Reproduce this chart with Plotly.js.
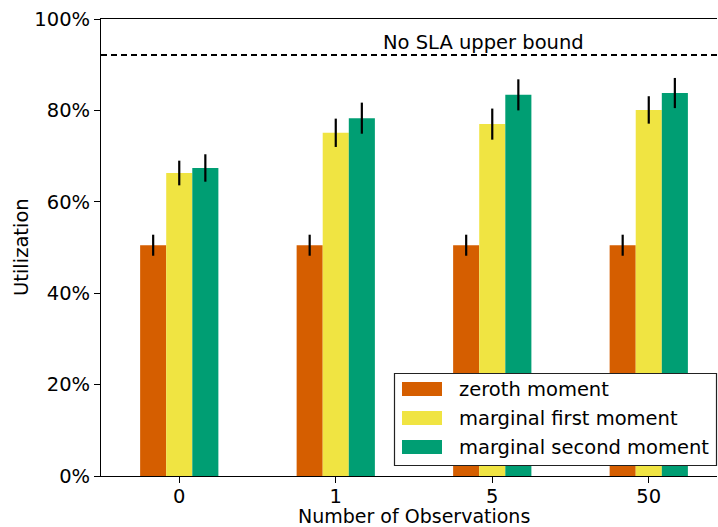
<!DOCTYPE html>
<html>
<head>
<meta charset="utf-8">
<script src="https://cdn.plot.ly/plotly-3.0.1.min.js"></script>
<style>html,body{margin:0;padding:0;background:#fff;}#chart{width:718px;height:527px;}</style>
</head>
<body>
<div id="chart"></div>
<script>
const categories = ["0", "1", "5", "50"];
const seriesNames = ["zeroth moment", "marginal first moment", "marginal second moment"];
const zerothValues = [50.5, 50.5, 50.5, 50.5];
const zerothErrors = [2.3, 2.3, 2.3, 2.3];
const firstValues = [66.3, 75.1, 77.0, 80.1];
const firstErrors = [2.7, 3.1, 3.4, 3.0];
const secondValues = [67.4, 78.3, 83.4, 83.8];
const secondErrors = [3.0, 3.4, 3.4, 3.3];
const yTickValues = [0, 20, 40, 60, 80, 100];
const yTickLabels = ["0%", "20%", "40%", "60%", "80%", "100%"];
const slaBound = 92.1;
const slaLabel = "No SLA upper bound";
const xTitle = "Number of Observations";
const yTitle = "Utilization";
const colors = ["#D55E00", "#F0E442", "#009E73"];

const FONT = "DejaVu Sans, sans-serif";
const FS = 19.5;
const vals = [zerothValues, firstValues, secondValues];
const errs = [zerothErrors, firstErrors, secondErrors];

const W = 718, H = 527;
const M = {l: 101, r: 1, t: 19, b: 51};
const PW = W - M.l - M.r, PH = H - M.t - M.b;
const px = x => (x - M.l) / PW;
const py = y => (H - M.b - y) / PH;

const traces = vals.map((v, i) => ({
  type: "bar",
  name: seriesNames[i],
  x: categories,
  y: v,
  marker: {color: colors[i], line: {width: 0}},
  error_y: {type: "data", array: errs[i], visible: true, color: "#000", thickness: 2.2, width: 0}
}));

const shapes = [{
  type: "line", xref: "paper", yref: "y", x0: 0, x1: 1, y0: slaBound, y1: slaBound,
  line: {color: "#000", width: 2, dash: "6px,4px"}
}];
const annotations = [
  {
    xref: "paper", yref: "y", x: px(483), y: slaBound, xanchor: "center", yanchor: "bottom",
    text: slaLabel, showarrow: false, yshift: -1,
    font: {family: FONT, size: FS, color: "#000"}
  },
  {
    xref: "paper", yref: "paper", x: px(414), y: py(516), xanchor: "center", yanchor: "middle",
    text: xTitle, showarrow: false, borderpad: 0,
    font: {family: FONT, size: 19, color: "#000"}
  },
  {
    xref: "paper", yref: "paper", x: px(21), y: py(247), xanchor: "center", yanchor: "middle",
    text: yTitle, showarrow: false, textangle: -90, borderpad: 0,
    font: {family: FONT, size: FS, color: "#000"}
  }
];

// matplotlib-like legend box
(function () {
  const x0 = 394.5, x1 = 716.5, y0 = 373.5, y1 = 465.5;
  shapes.push({
    type: "rect", xref: "paper", yref: "paper",
    x0: px(x0), x1: px(x1), y0: py(y1), y1: py(y0),
    fillcolor: "#ffffff", line: {color: "#222", width: 1.2}, layer: "above"
  });
  const rowY = [389, 418, 447];
  seriesNames.forEach((name, i) => {
    shapes.push({
      type: "rect", xref: "paper", yref: "paper",
      x0: px(402), x1: px(442), y0: py(rowY[i] + 7), y1: py(rowY[i] - 7),
      fillcolor: colors[i], line: {width: 0}, layer: "above"
    });
    annotations.push({
      xref: "paper", yref: "paper", x: px(457), y: py(rowY[i]), xanchor: "left", yanchor: "middle",
      text: name, showarrow: false,
      font: {family: FONT, size: FS, color: "#000"}
    });
  });
})();

const layout = {
  width: W, height: H,
  margin: M,
  paper_bgcolor: "#fff", plot_bgcolor: "#fff",
  font: {family: FONT, size: FS, color: "#000"},
  barmode: "group",
  bargap: 0.5, bargroupgap: 0,
  showlegend: false,
  xaxis: {
    type: "category",
    range: [-0.5, 3.436],
    showline: true, linecolor: "#000", linewidth: 1, mirror: true,
    ticks: "outside", ticklen: 6, tickcolor: "#000",
    ticklabelstandoff: -3,
    showgrid: false, zeroline: false,
    tickfont: {family: FONT, size: FS, color: "#000"}
  },
  yaxis: {
    range: [0, 100],
    tickmode: "array",
    tickvals: yTickValues,
    ticktext: yTickLabels,
    showline: true, linecolor: "#000", linewidth: 1, mirror: false,
    ticks: "outside", ticklen: 6, tickcolor: "#000",
    showgrid: false, zeroline: false,
    tickfont: {family: FONT, size: FS, color: "#000"}
  },
  shapes: shapes,
  annotations: annotations
};

Plotly.newPlot("chart", traces, layout, {displayModeBar: false, staticPlot: true});
</script>
</body>
</html>
